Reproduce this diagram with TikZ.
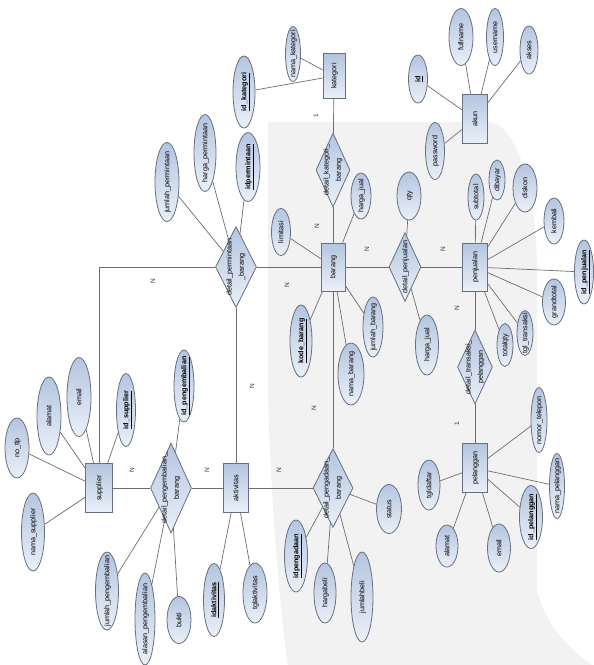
\documentclass[tikz,border=0pt]{standalone}
\usepackage{fontspec}
\setmainfont{Liberation Sans}
\usetikzlibrary{shapes.geometric}

\definecolor{edgec}{HTML}{66707F}
\definecolor{linec}{HTML}{6E6E6E}
\definecolor{fillA}{HTML}{B4C5E0}
\definecolor{fillB}{HTML}{EBF0F8}
\definecolor{bgc}{HTML}{F2F2F2}

% zero-size text boxes so that shapes keep the sizes given to them
\newcommand\tx[1]{\raisebox{-.33em}[0pt][0pt]{\makebox[0pt]{#1}}}
\newcommand\ttx[2]{\raisebox{-.25em}[0pt][0pt]{\makebox[0pt]{\begin{tabular}{@{}c@{}}#1\\[3.5pt]#2\end{tabular}}}}
\newcommand\key[1]{\underline{\textbf{#1}}}

\tikzset{
  shapebase/.style={draw=edgec, line width=.8pt, top color=fillA, bottom color=fillB,
    rotate=90, inner sep=0pt, font=\fontsize{7.2}{8.6}\selectfont},
  ent/.style={shapebase, rectangle},
  rel/.style={shapebase, diamond},
  att/.style={shapebase, ellipse},
  card/.style={rotate=90, inner sep=0pt, text=black!80, font=\fontsize{6.5}{7}\selectfont},
  ln/.style={draw=linec, line width=.7pt}
}

\begin{document}
\begin{tikzpicture}[x=1pt,y=-1pt]
\useasboundingbox[fill=white] (0,0) rectangle (594,665);

% light backdrop
\fill[bgc] (268,122) -- (487,122) .. controls (520,122) and (537,200) .. (537,270)
  -- (537,590) .. controls (545,625) and (570,650) .. (592,665)
  -- (288,665) .. controls (278,600) and (268,450) .. (268,380) -- cycle;

% entities
\node[ent, minimum width=45pt, minimum height=22pt] (kategori) at (334,76) {\tx{kategori}};
\node[ent, minimum width=49pt, minimum height=25pt] (akun) at (475,119) {\tx{akun}};
\node[ent, minimum width=48pt, minimum height=24pt] (barang) at (333,267) {\tx{barang}};
\node[ent, minimum width=48pt, minimum height=25pt] (penjualan) at (475,267) {\tx{penjualan}};
\node[ent, minimum width=49pt, minimum height=27pt] (supplier) at (99,488) {\tx{supplier}};
\node[ent, minimum width=49pt, minimum height=25pt] (aktivitas) at (236,488) {\tx{aktivitas}};
\node[ent, minimum width=49pt, minimum height=25pt] (pelanggan) at (475,468) {\tx{pelanggan}};

% relationships
\node[rel, minimum width=74pt, minimum height=34pt] (rkb) at (333,170) {\ttx{detail\_kategori\_}{barang}};
\node[rel, minimum width=81pt, minimum height=41pt] (rpb) at (236,267) {\ttx{detail\_permintaan}{\_barang}};
\node[rel, minimum width=69pt, minimum height=32pt] (rpj) at (405,267) {\tx{detail\_penjualan}};
\node[rel, minimum width=74pt, minimum height=35pt] (rtp) at (475,367) {\ttx{detail\_transaksi\_}{pelanggan}};
\node[rel, minimum width=90pt, minimum height=41pt] (rpk) at (171,488) {\ttx{detail\_pengembalian\_}{barang}};
\node[rel, minimum width=79pt, minimum height=40pt] (rpd) at (333,488) {\ttx{detail\_pengadaan\_}{barang}};

\coordinate (bend) at (99,267);

% attributes
\node[att, minimum width=55pt, minimum height=15pt] (a_nkat) at (293,54) {\tx{nama\_kategori}};
\node[att, minimum width=72pt, minimum height=22pt] (a_idkat) at (244,92) {\tx{\key{id\_kategori}}};
\node[att, minimum width=69pt, minimum height=24pt] (a_idper) at (248,167) {\tx{\key{idpermintaan}}};
\node[att, minimum width=77pt, minimum height=22pt] (a_hper) at (205,153) {\tx{harga\_permintaan}};
\node[att, minimum width=79pt, minimum height=24pt] (a_jper) at (167,182) {\tx{jumlah\_permintaan}};
\node[att, minimum width=46pt, minimum height=20pt] (a_hj1) at (361,196) {\tx{harga\_jual}};
\node[att, minimum width=47pt, minimum height=19pt] (a_lim) at (281,232) {\tx{limitasi}};
\node[att, minimum width=72pt, minimum height=22pt] (a_kb) at (301,341) {\tx{\key{kode\_barang}}};
\node[att, minimum width=62pt, minimum height=26pt] (a_nb) at (351,374) {\tx{nama\_barang}};
\node[att, minimum width=60pt, minimum height=20pt] (a_jb) at (373,327) {\tx{jumlah\_barang}};
\node[att, minimum width=48pt, minimum height=24pt] (a_qty) at (409,196) {\tx{qty}};
\node[att, minimum width=60pt, minimum height=23pt] (a_hj2) at (427,345) {\tx{harga\_jual}};
\node[att, minimum width=48pt, minimum height=19pt] (a_id) at (418,79) {\tx{\key{id}}};
\node[att, minimum width=57pt, minimum height=24pt] (a_fn) at (461,37) {\tx{fullname}};
\node[att, minimum width=57pt, minimum height=17pt] (a_un) at (495,37) {\tx{username}};
\node[att, minimum width=48pt, minimum height=18pt] (a_ak) at (529,50) {\tx{akses}};
\node[att, minimum width=57pt, minimum height=19pt] (a_pw) at (435,151) {\tx{password}};
\node[att, minimum width=46pt, minimum height=16pt] (a_st) at (476,197) {\tx{subtotal}};
\node[att, minimum width=40pt, minimum height=16pt] (a_db) at (497,180) {\tx{dibayar}};
\node[att, minimum width=48pt, minimum height=24pt] (a_ds) at (525,188) {\tx{diskon}};
\node[att, minimum width=46pt, minimum height=20pt] (a_kmb) at (554,221) {\tx{kembali}};
\node[att, minimum width=64pt, minimum height=19pt] (a_idpj) at (584,272) {\tx{\key{id\_penjualan}}};
\node[att, minimum width=46pt, minimum height=23pt] (a_gt) at (554,302) {\tx{grandtotal}};
\node[att, minimum width=45pt, minimum height=16pt] (a_tgt) at (525,333) {\tx{tgl\_transaksi}};
\node[att, minimum width=43pt, minimum height=16pt] (a_tq) at (505,345) {\tx{totalqty}};
\node[att, minimum width=65pt, minimum height=16pt] (a_nt) at (539,420) {\tx{nomor\_telepon}};
\node[att, minimum width=65pt, minimum height=15pt] (a_np) at (557,486) {\tx{nama\_pelanggan}};
\node[att, minimum width=63pt, minimum height=23pt] (a_idp) at (531,517) {\tx{\key{id\_pelanggan}}};
\node[att, minimum width=48pt, minimum height=23pt] (a_em) at (499,548) {\tx{email}};
\node[att, minimum width=42pt, minimum height=22pt] (a_al) at (447,546) {\tx{alamat}};
\node[att, minimum width=50pt, minimum height=22pt] (a_tgd) at (429,485) {\tx{tgldaftar}};
\node[att, minimum width=49pt, minimum height=25pt] (a_sts) at (389,509) {\tx{status}};
\node[att, minimum width=72pt, minimum height=23pt] (a_idpd) at (296,556) {\tx{\key{idpengadaan}}};
\node[att, minimum width=60pt, minimum height=22pt] (a_hb) at (325,593) {\tx{hargabeli}};
\node[att, minimum width=90pt, minimum height=22pt] (a_jbl) at (362,597) {\tx{jumlahbeli}};
\node[att, minimum width=60pt, minimum height=24pt] (a_ntl) at (17,448) {\tx{no\_tlp}};
\node[att, minimum width=78pt, minimum height=23pt] (a_ns) at (33,532) {\tx{nama\_supplier}};
\node[att, minimum width=78pt, minimum height=24pt] (a_als) at (49,416) {\tx{alamat}};
\node[att, minimum width=79pt, minimum height=24pt] (a_ems) at (79,397) {\tx{email}};
\node[att, minimum width=73pt, minimum height=19pt] (a_ids) at (126,410) {\tx{\key{id\_supplier}}};
\node[att, minimum width=72pt, minimum height=20pt] (a_idpk) at (184,386) {\tx{\key{id\_pengembalian}}};
\node[att, minimum width=78pt, minimum height=23pt] (a_jpk) at (107,591) {\tx{jumlah\_pengembalian}};
\node[att, minimum width=92pt, minimum height=20pt] (a_apk) at (145,619) {\tx{alasan\_pengembalian}};
\node[att, minimum width=47pt, minimum height=24pt] (a_bk) at (179,620) {\tx{bukti}};
\node[att, minimum width=73pt, minimum height=21pt] (a_ida) at (214,600) {\tx{\key{idaktivitas}}};
\node[att, minimum width=60pt, minimum height=24pt] (a_tga) at (255,593) {\tx{tglaktivitas}};

% cardinalities
\node[card] (c1) at (316,116) {1};
\node[card] (c2) at (317,226) {N};
\node[card] (c3) at (367,249) {N};
\node[card] (c4) at (443,249) {N};
\node[card] (c5) at (457,308) {N};
\node[card] (c6) at (457,424) {1};
\node[card] (c7) at (287,285) {N};
\node[card] (c8) at (153,281) {N};
\node[card] (c9) at (252,386) {N};
\node[card] (c10) at (314,408) {N};
\node[card] (c11) at (132,470) {N};
\node[card] (c12) at (207,470) {N};
\node[card] (c13) at (279,470) {N};

% relationship connectors
\draw[ln] (kategori) -- (rkb);
\draw[ln] (rkb) -- (barang);
\draw[ln] (barang) -- (rpj);
\draw[ln] (rpj) -- (penjualan);
\draw[ln] (rpb) -- (barang);
\draw[ln] (rpb) -- (bend) -- (supplier);
\draw[ln] (rpb) -- (aktivitas);
\draw[ln] (barang) -- (rpd);
\draw[ln] (aktivitas) -- (rpd);
\draw[ln] (supplier) -- (rpk);
\draw[ln] (rpk) -- (aktivitas);
\draw[ln] (penjualan) -- (rtp);
\draw[ln] (rtp) -- (pelanggan);

% attribute connectors
\foreach \a in {a_nkat,a_idkat} \draw[ln] (\a) -- (kategori);
\foreach \a in {a_idper,a_hper,a_jper} \draw[ln] (\a) -- (rpb);
\foreach \a in {a_hj1,a_lim,a_kb,a_nb,a_jb} \draw[ln] (\a) -- (barang);
\foreach \a in {a_qty,a_hj2} \draw[ln] (\a) -- (rpj);
\foreach \a in {a_id,a_fn,a_un,a_ak,a_pw} \draw[ln] (\a) -- (akun);
\foreach \a in {a_st,a_db,a_ds,a_kmb,a_idpj,a_gt,a_tgt,a_tq} \draw[ln] (\a) -- (penjualan);
\foreach \a in {a_nt,a_np,a_idp,a_em,a_al,a_tgd} \draw[ln] (\a) -- (pelanggan);
\foreach \a in {a_sts,a_idpd,a_hb,a_jbl} \draw[ln] (\a) -- (rpd);
\foreach \a in {a_ntl,a_ns,a_als,a_ems,a_ids} \draw[ln] (\a) -- (supplier);
\foreach \a in {a_idpk,a_jpk,a_apk,a_bk} \draw[ln] (\a) -- (rpk);
\foreach \a in {a_ida,a_tga} \draw[ln] (\a) -- (aktivitas);
\end{tikzpicture}
\end{document}
